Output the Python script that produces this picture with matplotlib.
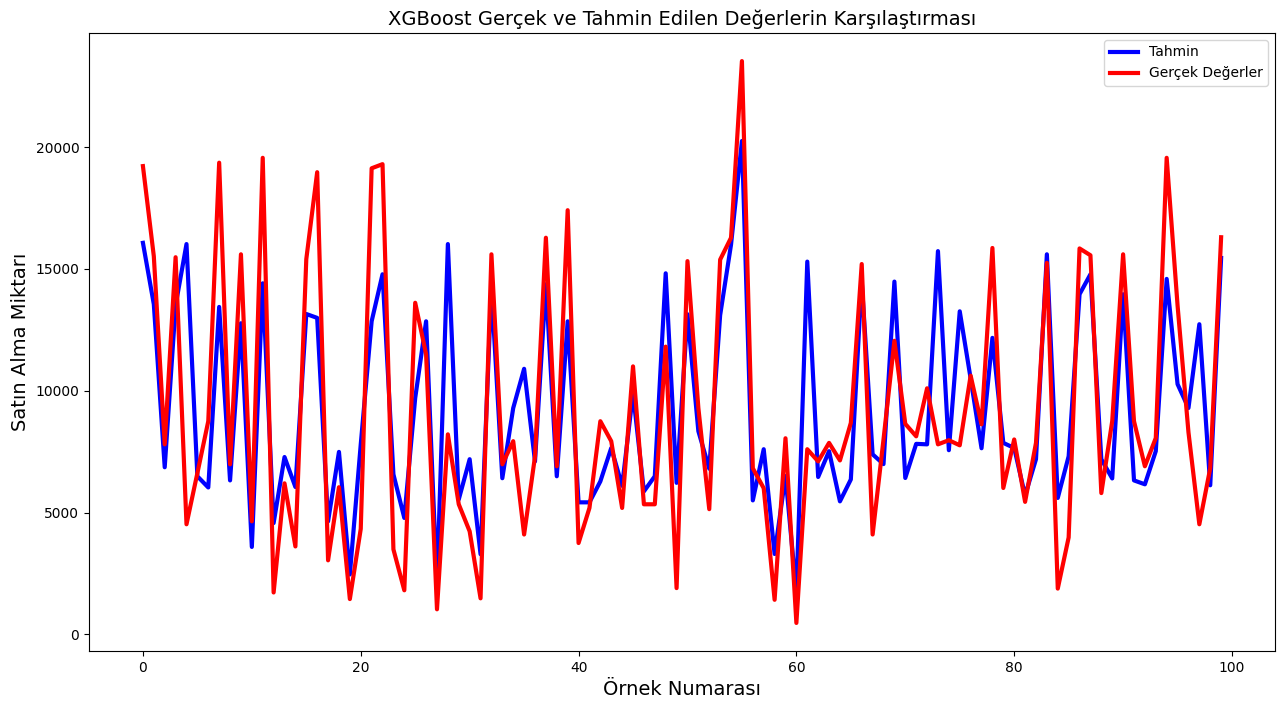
import matplotlib
matplotlib.use("Agg")
import matplotlib.pyplot as plt

sample_index = list(range(100))

predicted = [
    16070, 13550, 6860, 13500, 16020, 6490, 6030, 13440, 6320, 12770,
    3590, 14410, 4570, 7280, 6050, 13150, 12990, 4640, 7490, 2460,
    7800, 12850, 14780, 6570, 4780, 9700, 12850, 2000, 16020, 5540,
    7190, 3290, 14200, 6410, 9290, 10900, 7100, 14370, 6490, 12850,
    5420, 5420, 6280, 7650, 6100, 9900, 5870, 6490, 14820, 6220,
    13140, 8340, 6800, 13100, 16000, 20250, 5500, 7600, 3300, 6500,
    1700, 15300, 6460, 7520, 5460, 6360, 14500, 7390, 6990, 14480,
    6420, 7820, 7800, 15730, 7560, 13260, 10500, 7640, 12170, 7860,
    7650, 5700, 7190, 15600, 5600, 7310, 13960, 14780, 7190, 6400,
    13960, 6320, 6160, 7520, 14590, 10270, 9290, 12730, 6120, 15450,
]

actual = [
    19220, 15520, 7800, 15480, 4520, 6620, 8750, 19360, 6980, 15600,
    4640, 19560, 1720, 6200, 3610, 15400, 18970, 3040, 6040, 1450,
    4330, 19130, 19300, 3490, 1810, 13610, 11500, 1030, 8210, 5340,
    4230, 1480, 15600, 6980, 7930, 4100, 7300, 16280, 6900, 17410,
    3750, 5190, 8750, 7930, 5190, 11000, 5340, 5340, 11810, 1900,
    15320, 9290, 5140, 15380, 16280, 23530, 6820, 6000, 1420, 8050,
    470, 7600, 7100, 7860, 7140, 8680, 15200, 4100, 8000, 12050,
    8640, 8130, 10100, 7800, 7970, 7760, 10620, 8620, 15860, 6010,
    8000, 5440, 7860, 15250, 1880, 3980, 15840, 15560, 5800, 8750,
    15600, 8750, 6900, 8060, 19560, 13500, 8300, 4520, 6820, 16300,
]

fig, ax = plt.subplots(figsize=(12.79, 7.02), dpi=100)
fig.subplots_adjust(left=0.0696, right=0.9969, bottom=0.0726, top=0.953)

ax.plot(sample_index, predicted, color="blue", linewidth=3, label="Tahmin")
ax.plot(sample_index, actual, color="red", linewidth=3, label="Gerçek Değerler")

ax.set_title("XGBoost Gerçek ve Tahmin Edilen Değerlerin Karşılaştırması", fontsize=14)
ax.set_xlabel("Örnek Numarası", fontsize=14)
ax.set_ylabel("Satın Alma Miktarı", fontsize=14)
ax.legend(loc="upper right")

fig.savefig("out.png", dpi=100)
